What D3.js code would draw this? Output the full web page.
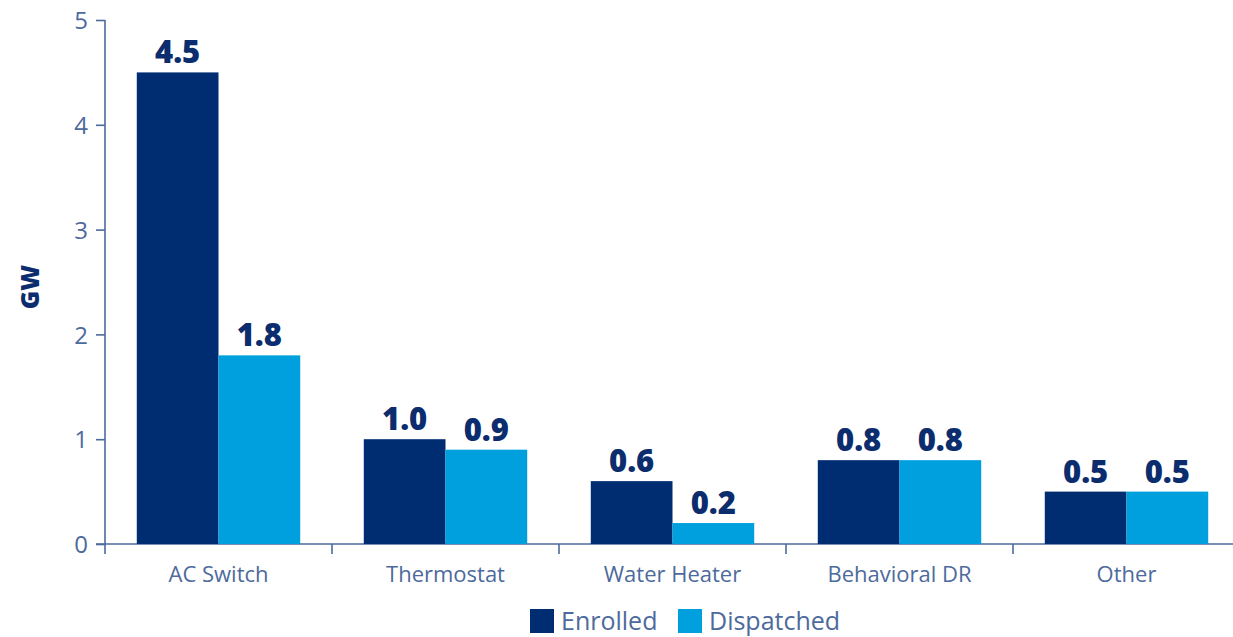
<!DOCTYPE html>
<html>
<head>
<meta charset="utf-8">
<script src="https://cdn.jsdelivr.net/npm/d3@7"></script>
<style>
  html, body { margin: 0; padding: 0; background: #fff; }
  svg { display: block; font-family: "Open Sans", "Noto Sans", sans-serif; }
</style>
</head>
<body>
<svg id="chart" width="1233" height="637"></svg>
<script>
// Demand response capacity by program type (GW)
const categories = ["AC Switch", "Thermostat", "Water Heater", "Behavioral DR", "Other"];
const seriesNames = ["Enrolled", "Dispatched"];
const enrolled = [4.5, 1.0, 0.6, 0.8, 0.5];
const dispatched = [1.8, 0.9, 0.2, 0.8, 0.5];
const yTicks = [0, 1, 2, 3, 4, 5];

const colors = { Enrolled: "#002d72", Dispatched: "#00a0df" };
const axisColor = "#4d6a9c";
const labelColor = "#0b2d6e";

const svg = d3.select("#chart");
const margin = { left: 105, right: 0, top: 20, bottom: 93 };
const width = 1240 - margin.left;
const height = 637 - margin.top - margin.bottom;

const g = svg.append("g").attr("transform", `translate(${margin.left},${margin.top})`);

const x0 = d3.scaleBand().domain(categories).range([0, width]).paddingInner(0.28).paddingOuter(0.14);
const x1 = d3.scaleBand().domain(seriesNames).range([0, x0.bandwidth()]).padding(0);
const y = d3.scaleLinear().domain([0, 5]).range([height, 0]);

const rows = categories.map((c, i) => ({ category: c, Enrolled: enrolled[i], Dispatched: dispatched[i] }));

// Y axis
const yAxis = g.append("g")
  .call(d3.axisLeft(y).tickValues(yTicks).tickSize(9).tickPadding(8).tickFormat(d3.format("d")))
  .attr("font-family", null);
yAxis.select(".domain").attr("d", `M0,0V${height + 10}`);
yAxis.selectAll("line, path").attr("stroke", axisColor).attr("stroke-width", 1.6);
yAxis.selectAll("text").attr("fill", axisColor)
  .style("font-size", "24px").attr("dy", "0.36em");

// X axis with separators between categories
const xAxisG = g.append("g").attr("transform", `translate(0,${height})`);
xAxisG.append("line").attr("x1", -9).attr("x2", width).attr("stroke", axisColor).attr("stroke-width", 1.6);
xAxisG.selectAll("line.sep")
  .data(d3.range(1, categories.length))
  .join("line")
  .attr("class", "sep")
  .attr("x1", i => (x0(categories[i - 1]) + x0.bandwidth() + x0(categories[i])) / 2)
  .attr("x2", i => (x0(categories[i - 1]) + x0.bandwidth() + x0(categories[i])) / 2)
  .attr("y1", 0).attr("y2", 10)
  .attr("stroke", axisColor).attr("stroke-width", 1.6);
xAxisG.selectAll("text.cat")
  .data(categories)
  .join("text")
  .attr("class", "cat")
  .attr("x", d => x0(d) + x0.bandwidth() / 2)
  .attr("y", 38)
  .attr("text-anchor", "middle")
  .attr("fill", axisColor)
  .style("font-size", "22px")
  .text(d => d);

// Bars
const groups = g.selectAll("g.cat")
  .data(rows)
  .join("g")
  .attr("class", "cat")
  .attr("transform", d => `translate(${x0(d.category)},0)`);

groups.selectAll("rect")
  .data(d => seriesNames.map(s => ({ key: s, value: d[s] })))
  .join("rect")
  .attr("x", d => x1(d.key))
  .attr("y", d => y(d.value))
  .attr("width", x1.bandwidth())
  .attr("height", d => height - y(d.value))
  .attr("fill", d => colors[d.key]);

groups.selectAll("text.val")
  .data(d => seriesNames.map(s => ({ key: s, value: d[s] })))
  .join("text")
  .attr("class", "val")
  .attr("x", d => x1(d.key) + x1.bandwidth() / 2)
  .attr("y", d => y(d.value) - 9)
  .attr("text-anchor", "middle")
  .attr("fill", labelColor)
  .style("font-size", "31px")
  .style("font-weight", "800")
  .text(d => d3.format(".1f")(d.value));

// Y axis title
svg.append("text")
  .attr("transform", `translate(39,${margin.top + height / 2 + 5}) rotate(-90)`)
  .attr("text-anchor", "middle")
  .attr("fill", labelColor)
  .style("font-size", "25px")
  .style("font-weight", "800")
  .text("GW");

// Legend
const legend = svg.append("g").attr("transform", "translate(530,609)");
const legendX = { Enrolled: 0, Dispatched: 148 };
const li = legend.selectAll("g").data(seriesNames).join("g")
  .attr("transform", d => `translate(${legendX[d]},0)`);
li.append("rect").attr("width", 24).attr("height", 24).attr("fill", d => colors[d]);
li.append("text").attr("x", 31).attr("y", 21)
  .attr("fill", axisColor).style("font-size", "25px").text(d => d);
</script>
</body>
</html>
